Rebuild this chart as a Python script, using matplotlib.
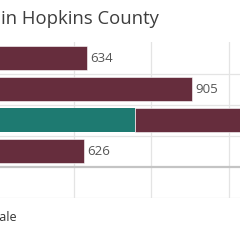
import matplotlib.pyplot as plt

# Data (chart is cropped on the left, so only part is visible)
rows = [0, 1, 2, 3]
totals = [634, 905, 1160, 626]
highlight = [0, 0, 758, 0]          # teal segment of the highlighted bar
labels = ['634', '905', '1,160', '626']
gridvals = [600, 800, 1000]

maroon = '#662d3d'
teal = '#1e7a71'

plt.rcParams['font.family'] = ['Open Sans', 'DejaVu Sans']

fig = plt.figure(figsize=(2.4, 2.4), dpi=100)
# axes extend past the left edge, like the cropped original
ax = fig.add_axes([-0.661, 0.175, 1.9375, 0.648])
ax.set_xlim(0, 1200)
ax.set_ylim(4.5, -0.5)

for v in gridvals:
    ax.axvline(v, color='#e4e4e4', lw=0.9, zorder=0)
for y in [0.5, 1.5, 2.5, 4.5]:
    ax.axhline(y, color='#e4e4e4', lw=0.9, zorder=0)
ax.axhline(3.5, color='#c4c4c4', lw=1.6, zorder=0)

rest = [t - h for t, h in zip(totals, highlight)]
ax.barh(rows, highlight, height=0.77, color=teal, zorder=2)
ax.barh(rows, rest, left=highlight, height=0.77, color=maroon, zorder=2,
        edgecolor='white', linewidth=0.4)

for r, t, lab in zip(rows, totals, labels):
    ax.text(t + 8, r, lab, va='center', ha='left', fontsize=9.5, color='#555555')

ax.set_xticks([])
ax.set_yticks([])
for s in ax.spines.values():
    s.set_visible(False)

fig.text(0.005, 0.922, 'in Hopkins County', fontsize=13.3, color='#3d3d3d',
         va='center', ha='left')
fig.text(0.074, 0.092, 'Male', fontsize=9, color='#333333', va='center', ha='right')

fig.savefig('out.png', dpi=100)
